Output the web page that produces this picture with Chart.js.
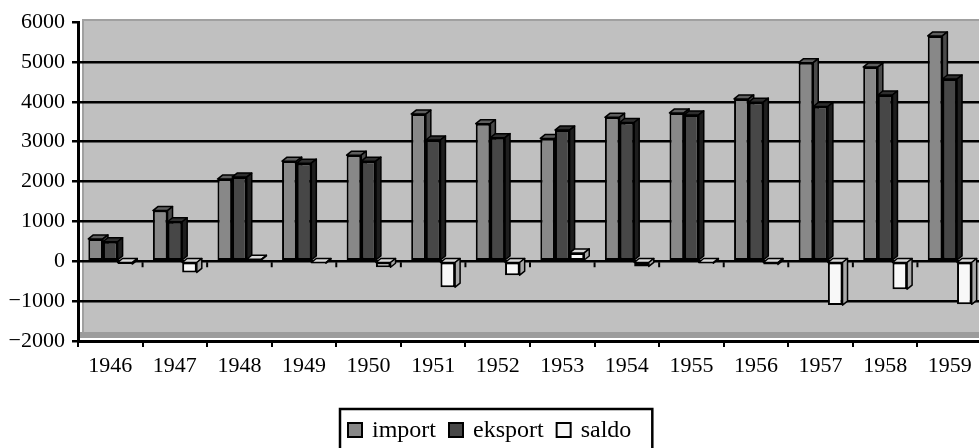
<!DOCTYPE html>
<html>
<head>
<meta charset="utf-8">
<script src="https://cdn.jsdelivr.net/npm/chart.js@4"></script>
<style>
  html, body { margin: 0; padding: 0; background: #ffffff; overflow: hidden; }
  #wrap { position: relative; width: 985px; height: 448px; }
</style>
</head>
<body>
<div id="wrap"><canvas id="c" width="985" height="448"></canvas></div>
<script>
const years = ['1946','1947','1948','1949','1950','1951','1952','1953','1954','1955','1956','1957','1958','1959'];
const importVals  = [560, 1270, 2060, 2510, 2660, 3690, 3450, 3080, 3610, 3720, 4070, 4980, 4870, 5650];
const eksportVals = [490,  990, 2110, 2460, 2510, 3040, 3100, 3290, 3480, 3670, 3990, 3880, 4170, 4570];
const saldoVals   = [-70, -280,   50,  -50, -150, -650, -350,  210, -130,  -50,  -80, -1100, -700, -1080];
const seriesNames = ['import', 'eksport', 'saldo'];

const FONT = '"Liberation Serif", "DejaVu Serif", serif';
const DX = 5, DY = 4;
const faceColors = ['#888888', '#474747', '#f8f8f8'];
const topColors  = ['#5e5e5e', '#2e2e2e', '#d8d8d8'];
const sideColors = ['#4a4a4a', '#1e1e1e', '#a8a8a8'];

const wallPlugin = {
  id: 'wall',
  beforeDraw(chart) {
    const { ctx, chartArea: a } = chart;
    ctx.save();
    ctx.fillStyle = '#c0c0c0';
    ctx.fillRect(a.left + 4, a.top - 3, a.right - a.left, a.bottom - a.top);
    ctx.strokeStyle = '#a0a0a0';
    ctx.lineWidth = 2;
    ctx.beginPath();
    ctx.moveTo(a.left + 5, a.bottom - 4);
    ctx.lineTo(a.left + 5, a.top - 2);
    ctx.lineTo(a.right + 10, a.top - 2);
    ctx.stroke();
    ctx.fillStyle = '#9c9c9c';
    ctx.fillRect(a.left + 2, a.bottom - 9, a.right - a.left + 10, 6);
    ctx.restore();
  }
};

const depthPlugin = {
  id: 'depth',
  beforeDatasetsDraw(chart) {
    const ctx = chart.ctx;
    const y0 = chart.scales.y.getPixelForValue(0);
    const xs = chart.scales.x;
    ctx.save();
    // small ticks below the zero line at category boundaries
    ctx.strokeStyle = '#000';
    ctx.lineWidth = 2;
    for (let i = 1; i < years.length; i++) {
      const xb = (xs.getPixelForValue(i - 1) + xs.getPixelForValue(i)) / 2;
      ctx.beginPath();
      ctx.moveTo(xb, y0 + 1);
      ctx.lineTo(xb, y0 + 6);
      ctx.stroke();
    }
    ctx.lineWidth = 1.5;
    ctx.lineJoin = 'round';
    chart.data.datasets.forEach((ds, i) => {
      const meta = chart.getDatasetMeta(i);
      meta.data.forEach(bar => {
        const p = bar.getProps(['x', 'y', 'base', 'width'], true);
        const l = p.x - p.width / 2, r = p.x + p.width / 2;
        const top = Math.min(p.y, p.base), bot = Math.max(p.y, p.base);
        ctx.fillStyle = topColors[i];
        ctx.beginPath();
        ctx.moveTo(l, top); ctx.lineTo(l + DX, top - DY); ctx.lineTo(r + DX, top - DY); ctx.lineTo(r, top);
        ctx.closePath(); ctx.fill(); ctx.stroke();
        ctx.fillStyle = sideColors[i];
        ctx.beginPath();
        ctx.moveTo(r, top); ctx.lineTo(r + DX, top - DY); ctx.lineTo(r + DX, bot - DY); ctx.lineTo(r, bot);
        ctx.closePath(); ctx.fill(); ctx.stroke();
      });
    });
    ctx.restore();
  }
};

const legendPlugin = {
  id: 'boxLegend',
  afterDraw(chart) {
    const ctx = chart.ctx;
    ctx.save();
    ctx.font = '24px ' + FONT;
    ctx.textBaseline = 'alphabetic';
    let x = 348;
    const sw = 14, swTop = 423, baseY = 437;
    chart.data.datasets.forEach((ds, i) => {
      ctx.fillStyle = faceColors[i];
      ctx.fillRect(x, swTop, sw, sw);
      ctx.strokeStyle = '#000';
      ctx.lineWidth = 2;
      ctx.strokeRect(x, swTop, sw, sw);
      ctx.fillStyle = '#000';
      ctx.fillText(ds.label, x + 24, baseY);
      x = x + 24 + ctx.measureText(ds.label).width + 13;
    });
    ctx.strokeStyle = '#000';
    ctx.lineWidth = 2.5;
    ctx.strokeRect(340, 409, x + 8 - 340, 60);
    ctx.restore();
  }
};

new Chart(document.getElementById('c'), {
  type: 'bar',
  data: {
    labels: years,
    datasets: [
      { label: seriesNames[0], data: importVals,  backgroundColor: faceColors[0] },
      { label: seriesNames[1], data: eksportVals, backgroundColor: faceColors[1] },
      { label: seriesNames[2], data: saldoVals,   backgroundColor: faceColors[2] }
    ].map(d => Object.assign(d, { borderColor: '#000', borderWidth: 2, borderSkipped: false,
                                   barPercentage: 1, categoryPercentage: 0.68 }))
  },
  options: {
    responsive: false,
    animation: false,
    devicePixelRatio: 1,
    layout: { padding: { top: 22, right: 3, left: 0, bottom: 0 } },
    plugins: { legend: { display: false }, tooltip: { enabled: false } },
    scales: {
      x: {
        offset: true,
        grid: { offset: true, drawOnChartArea: false, color: '#000', tickColor: '#000', tickLength: 6, lineWidth: 2 },
        border: { color: '#000', width: 3 },
        ticks: { color: '#000', font: { family: FONT, size: 22 }, padding: 6, maxRotation: 0, autoSkip: false },
        afterFit(scale) { scale.height = 107; }
      },
      y: {
        min: -2000, max: 6000,
        ticks: {
          stepSize: 1000, color: '#000', padding: 7,
          font: { family: FONT, size: 22 },
          callback: v => (v < 0 ? '\u2212' + Math.abs(v) : String(v))
        },
        grid: {
          color: c => (c.tick && (c.tick.value === 6000 || c.tick.value === -2000)) ? 'rgba(0,0,0,0)' : '#000',
          tickColor: '#000', tickLength: 6, lineWidth: 2.5
        },
        border: { color: '#000', width: 3 },
        afterFit(scale) { scale.width = 78; }
      }
    }
  },
  plugins: [wallPlugin, depthPlugin, legendPlugin]
});
</script>
</body>
</html>
